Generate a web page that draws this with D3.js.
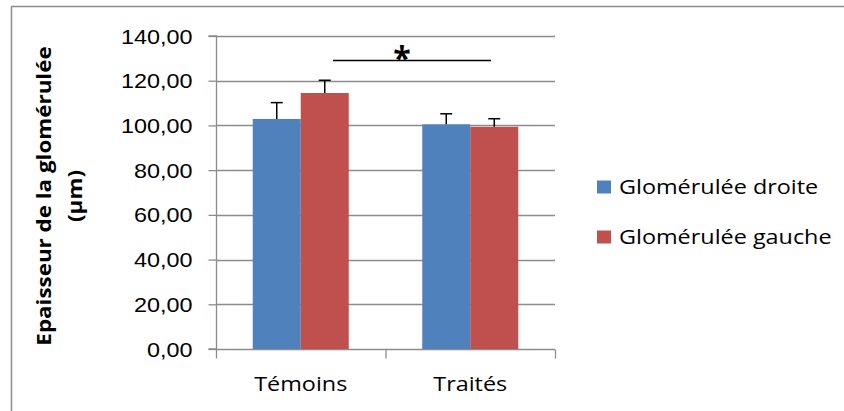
<!DOCTYPE html>
<html><head><meta charset="utf-8">
<script src="https://cdn.jsdelivr.net/npm/d3@7"></script>
<style>html,body{margin:0;padding:0;background:#fff;}svg{display:block;font-family:"Open Sans","Noto Sans",sans-serif;}</style>
</head><body><svg id="c" width="844" height="411"></svg>
<script>
const categories = ["Témoins", "Traités"];
const seriesNames = ["Glomérulée droite", "Glomérulée gauche"];
const droite = [102.9, 100.5];
const gauche = [114.5, 99.4];
const droiteErr = [7.3, 4.7];
const gaucheErr = [5.7, 3.6];
const yTicks = [0, 20, 40, 60, 80, 100, 120, 140];
const colors = ["#4F81BD", "#C0504D"];
const sigLabel = "*";
const yTitle = ["Epaisseur de la glomérulée", "(µm)"];

const FS = 20, SX = 1.17;
const svg = d3.select("#c");
function txt(parent, x, y, s, opts = {}) {
  const t = parent.append("text")
    .attr("transform", `translate(${x},${y}) ${opts.rot ? "rotate(" + opts.rot + ")" : ""} scale(${opts.sx || SX},1)`)
    .attr("font-size", opts.fs || FS).attr("fill", "#000")
    .attr("text-anchor", opts.anchor || "start")
    .attr("font-weight", opts.bold ? "bold" : "normal")
    .text(s);
  return t;
}

// outer frame
svg.append("path").attr("d","M11.5,411 V6.5 H844").attr("fill","none").attr("stroke","#8c8c8c").attr("stroke-width",1.5);

const x0 = d3.scaleBand().domain(categories).range([216, 555]);
const x1 = d3.scaleBand().domain([0,1]).range([0, 96]);
const y = d3.scaleLinear().domain([0, 140]).range([349, 36]);

// gridlines
svg.append("g").selectAll("line").data(yTicks.slice(1)).join("line")
  .attr("x1", 216).attr("x2", 555).attr("y1", d=>Math.round(y(d))+0.5).attr("y2", d=>Math.round(y(d))+0.5)
  .attr("stroke", "#8c8c8c").attr("stroke-width", 1.3);

// y axis
const fmt = d => d3.format(".2f")(d).replace(".", ",");
const yAxis = d3.axisLeft(y).tickValues(yTicks).tickSize(8).tickFormat(fmt);
const ya = svg.append("g").attr("transform","translate(216.5,0)").call(yAxis);
ya.select(".domain").attr("stroke","#8c8c8c").attr("stroke-width",1.3).attr("d","M-8,"+(y(140))+"H0V"+y(0)+"H-8");
ya.selectAll(".tick line").attr("stroke","#8c8c8c").attr("stroke-width",1.3);
ya.selectAll(".tick text").remove();
ya.selectAll(".tick").each(function(d){
  txt(d3.select(this), -24, 7, fmt(d), {anchor:"end"});
});

// x axis
const xa = svg.append("g").attr("transform","translate(0,"+(Math.round(y(0))+0.5)+")");
xa.append("line").attr("x1",216).attr("x2",555).attr("stroke","#8c8c8c").attr("stroke-width",1.3);
const xTickPos = [216, x0("Traités"), 555];
xa.selectAll("line.t").data(xTickPos).join("line").attr("class","t")
  .attr("x1",d=>d+0.5).attr("x2",d=>d+0.5).attr("y1",0).attr("y2",9).attr("stroke","#8c8c8c").attr("stroke-width",1.3);
categories.forEach(c => txt(xa, x0(c)+x0.bandwidth()/2, 41, c, {anchor:"middle"}));

// bars
const data = categories.map((c,i)=>[
  {c, s:0, v:droite[i], e:droiteErr[i]},
  {c, s:1, v:gauche[i], e:gaucheErr[i]}
]).flat();
const off = (x0.bandwidth()-96)/2;
const g = svg.append("g");
g.selectAll("rect").data(data).join("rect")
  .attr("x", d=>x0(d.c)+off+x1(d.s)).attr("width", x1.bandwidth())
  .attr("y", d=>y(d.v)).attr("height", d=>y(0)-y(d.v))
  .attr("fill", d=>colors[d.s]);
// error bars
data.forEach(d=>{
  const cx = x0(d.c)+off+x1(d.s)+x1.bandwidth()/2;
  g.append("line").attr("x1",cx).attr("x2",cx).attr("y1",y(d.v)).attr("y2",y(d.v+d.e)).attr("stroke","#000").attr("stroke-width",1.5);
  g.append("line").attr("x1",cx-6).attr("x2",cx+6).attr("y1",y(d.v+d.e)).attr("y2",y(d.v+d.e)).attr("stroke","#000").attr("stroke-width",1.5);
});

// significance
svg.append("line").attr("x1",333).attr("x2",491).attr("y1",60.5).attr("y2",60.5).attr("stroke","#000").attr("stroke-width",1.5);
txt(svg, 402, 70, sigLabel, {anchor:"middle", fs:32, bold:true, sx:1});

// y title
yTitle.forEach((t,i)=>{
  txt(svg, 51 + i*31, 196, t, {anchor:"middle", bold:true, rot:-90, sx:1.12});
});

// legend
const lg = svg.append("g");
seriesNames.forEach((s,i)=>{
  const cy = 187 + i*50;
  lg.append("rect").attr("x",597).attr("y",cy-6.5).attr("width",14).attr("height",13).attr("fill",colors[i]);
  txt(lg, 619, cy+7, s);
});
</script></body></html>
